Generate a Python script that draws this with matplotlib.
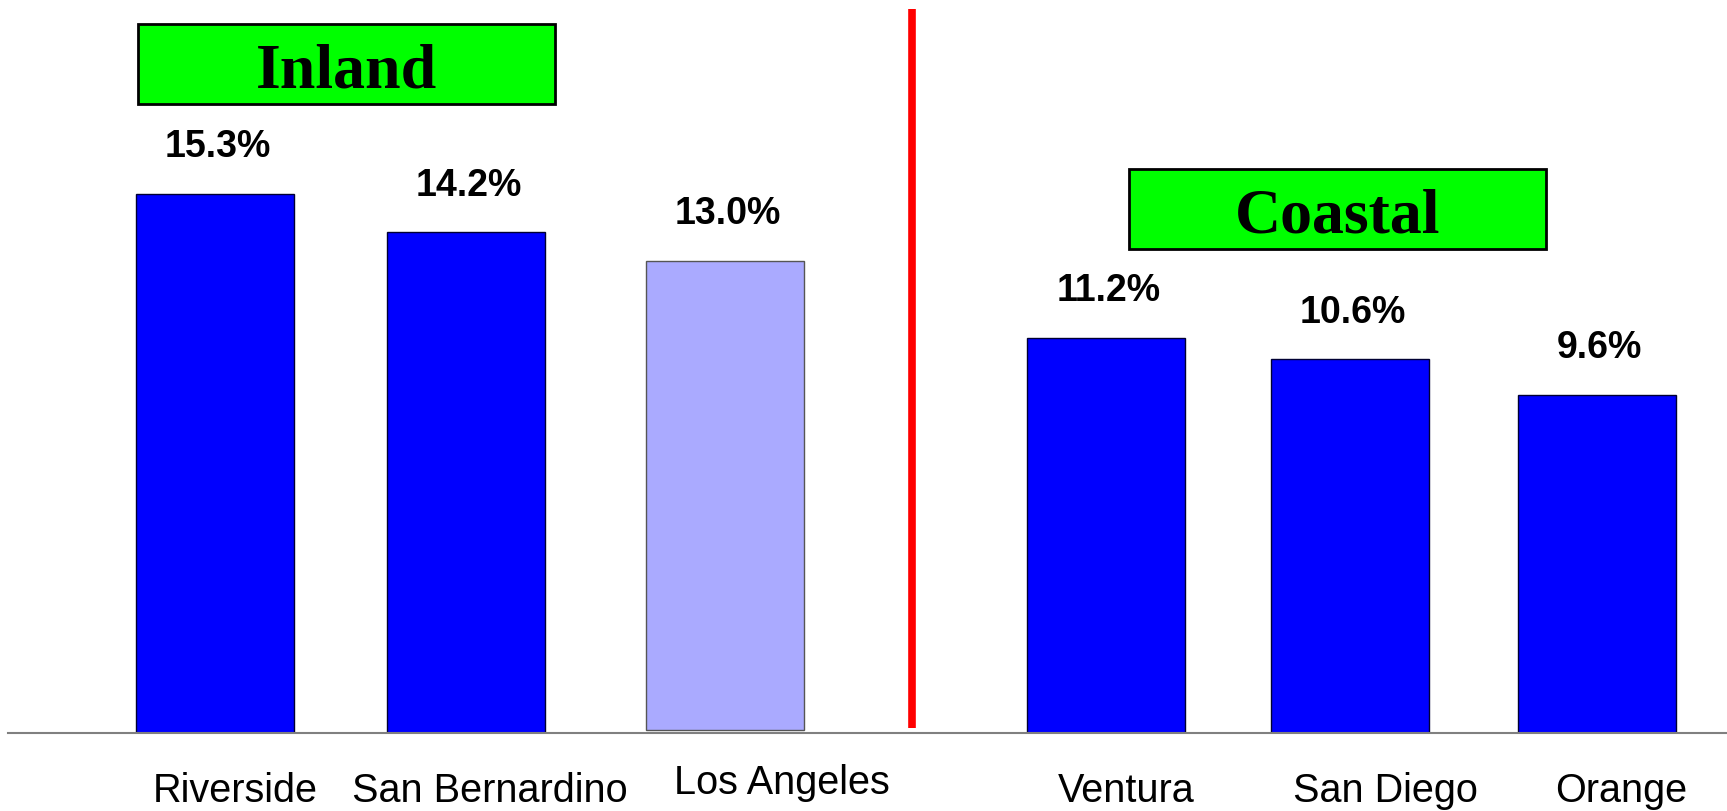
import matplotlib
matplotlib.use("Agg")
import matplotlib.pyplot as plt
from matplotlib.patches import Rectangle
from matplotlib.transforms import blended_transform_factory

counties = ["Riverside", "San Bernardino", "Los Angeles", "Ventura", "San Diego", "Orange"]
# bar heights as drawn in the picture; value labels as printed
bar_heights = [15.3, 14.2, 13.4, 11.2, 10.6, 9.6]
value_labels = ["15.3%", "14.2%", "13.0%", "11.2%", "10.6%", "9.6%"]
groups = ["Inland", "Coastal"]

# layout (bar centres and label centres in data units)
xpos = [0, 1.01, 2.05, 3.58, 4.56, 5.55]
label_x = [0.08, 1.105, 2.276, 3.66, 4.70, 5.65]
label_y = [0.011, 0.011, 0.021, 0.011, 0.011, 0.011]
bar_colors = ["#0000FF", "#0000FF", "#AAAAFF", "#0000FF", "#0000FF", "#0000FF"]
edge_colors = ["#000033", "#000033", "#555555", "#000033", "#000033", "#000033"]
bar_bottoms = [0, 0, 0.09, 0, 0, 0]

plt.rcParams['font.family'] = ['Liberation Sans', 'DejaVu Sans']

fig = plt.figure(figsize=(17.27, 8.11), dpi=100)
ax = fig.add_axes([0.0045, 0.0962, 0.9955, 0.9038])

ax.bar(xpos, [h - b for h, b in zip(bar_heights, bar_bottoms)], bottom=bar_bottoms, width=0.635,
       color=bar_colors, edgecolor=edge_colors, linewidth=1.0, zorder=2)

for x, v, lab in zip(xpos, bar_heights, value_labels):
    ax.text(x + 0.01, v + 1.04, lab, ha='center', va='baseline',
            fontsize=27, fontweight='bold', color='black')

trans = blended_transform_factory(ax.transData, fig.transFigure)
for x, y, name in zip(label_x, label_y, counties):
    ax.text(x, y, name, transform=trans, ha='center', va='baseline', fontsize=28.5, color='black')

# red divider between inland and coastal
ax.plot([2.80, 2.80], [0.14, 20.54], color='#FF0000', lw=5.5, solid_capstyle='butt', clip_on=False, zorder=3)

ax.set_xlim(-0.832, 6.073)
ax.set_ylim(0, 20.79)
for s in ['top', 'right', 'left']:
    ax.spines[s].set_visible(False)
ax.spines['bottom'].set_color('#808080')
ax.spines['bottom'].set_linewidth(1.5)
ax.set_xticks([])
ax.set_yticks([])

# green group boxes
box_specs = [(0.0799, 0.8718, 1 - 87.7 / 811), (0.6539, 0.6928, 1 - 232.3 / 811)]
for (bx, by, ty), g in zip(box_specs, groups):
    fig.patches.append(Rectangle((bx, by), 0.2412, 0.0985, transform=fig.transFigure,
                                 facecolor='#00FF00', edgecolor='black', linewidth=2, zorder=5))
    fig.text(bx + 0.1206, ty, g, ha='center', va='baseline', fontsize=46, fontweight='bold',
             family=['Liberation Serif', 'DejaVu Serif'], color='black', zorder=6)

fig.savefig("out.png", dpi=100)
